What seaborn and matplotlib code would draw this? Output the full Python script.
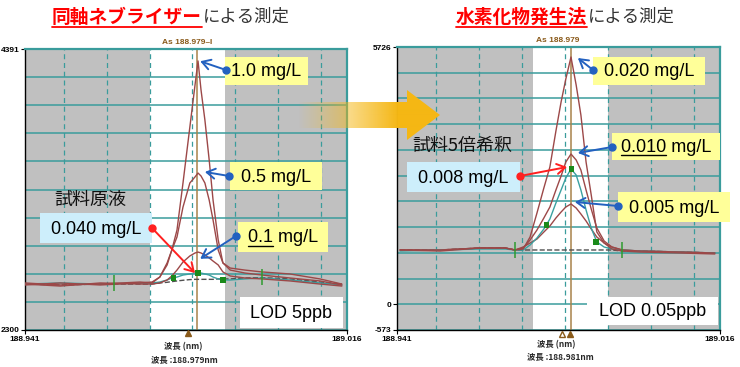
import matplotlib
matplotlib.use("Agg")
import matplotlib.pyplot as plt
from matplotlib.patches import Rectangle, Polygon
from matplotlib.lines import Line2D
import numpy as np
import pandas as pd
import seaborn as sns

# ---------------- data ----------------
# left panel: coaxial nebulizer
wl_left = [188.9410, 188.9492, 188.9585, 188.9678, 188.9706, 188.9724, 188.9741, 188.9752,
           188.9764, 188.9778, 188.9794, 188.9806, 188.9813, 188.9820, 188.9829, 188.9839,
           188.9848, 188.9860, 188.9871, 188.9888, 188.9922, 188.9962, 189.0027, 189.0097,
           189.0148]
std_10 = [2650, 2635, 2642, 2657, 2650, 2694, 2784, 2895, 3044, 3394, 3811, 4123, 4302,
          4086, 3863, 3565, 3267, 2970, 2799, 2761, 2746, 2732, 2717, 2680, 2642]
std_05 = [2635, 2650, 2635, 2650, 2657, 2694, 2799, 2895, 2992, 3215, 3394, 3439, 3468,
          3446, 3394, 3267, 3119, 2895, 2799, 2746, 2724, 2709, 2687, 2665, 2635]
std_01 = [2642, 2627, 2650, 2642, 2642, 2650, 2672, 2702, 2746, 2806, 2851, 2873, 2880,
          2873, 2858, 2836, 2813, 2784, 2732, 2702, 2687, 2680, 2665, 2642, 2627]
sample_left = [2642, 2650, 2642, 2650, 2650, 2657, 2672, 2687, 2694, 2709, 2717, 2724, 2724,
               2724, 2717, 2709, 2694, 2680, 2672, 2672, 2680, 2687, 2672, 2650, 2635]
blank_left = [2642, 2635, 2642, 2642, 2642, 2650, 2655, 2660, 2665, 2670, 2675, 2677, 2677,
              2677, 2677, 2677, 2677, 2680, 2680, 2680, 2687, 2690, 2680, 2657, 2642]
mark_wl_left = [188.9755, 188.9813, 188.9871]
mark_val_left = [2687, 2724, 2672]
tick_wl_left = [188.9617, 188.9962]
tick_val_left = [2650, 2694]

# right panel: hydride generation
wl_right = [188.9417, 188.9510, 188.9603, 188.9661, 188.9684, 188.9703, 188.9719, 188.9735,
            188.9751, 188.9765, 188.9779, 188.9791, 188.9802, 188.9814, 188.9826, 188.9837,
            188.9849, 188.9861, 188.9874, 188.9891, 188.9909, 188.9933, 188.9974, 189.0067,
            189.0148]
std_020 = [1208, 1208, 1252, 1252, 1208, 1230, 1497, 2031, 2588, 3055, 3856, 4502, 5014,
           5503, 4880, 4212, 3166, 2432, 1608, 1363, 1230, 1185, 1163, 1141, 1119]
std_010 = [1208, 1185, 1252, 1252, 1208, 1252, 1430, 1653, 1920, 2165, 2543, 2855, 3166,
           3344, 3211, 2988, 2543, 2120, 1697, 1408, 1274, 1208, 1185, 1163, 1141]
sample_right = [1185, 1208, 1230, 1230, 1208, 1208, 1319, 1475, 1675, 1898, 2254, 2543, 2810,
                3011, 2877, 2543, 2098, 1697, 1386, 1274, 1230, 1208, 1185, 1163, 1141]
std_005 = [1208, 1208, 1252, 1252, 1208, 1274, 1363, 1452, 1608, 1742, 1920, 2053, 2165,
           2232, 2142, 2009, 1853, 1675, 1497, 1363, 1274, 1208, 1185, 1163, 1141]
blank_right = [1208, 1208, 1252, 1252, 1208, 1208, 1208, 1208, 1208, 1208, 1208, 1208, 1208,
               1208, 1208, 1208, 1208, 1208, 1208, 1208, 1208, 1185, 1185, 1163, 1141]
mark_wl_right = [188.9758, 188.9816, 188.9872]
mark_val_right = [1764, 3011, 1386]
tick_wl_right = [188.9684, 188.9932]
tick_val_right = [1208, 1208]

x_range = [188.941, 189.016]
y_range_left = [2300, 4391]
y_range_right = [-573, 5726]
peak_left = 188.9811
peak_right = 188.9814
window_left = [188.9700, 188.9876]
window_right = [188.9726, 188.9900]

# ---------------- style ----------------
sns.set_theme(style="white")
plt.rcParams["font.family"] = ["Liberation Sans", "Noto Sans CJK JP", "DejaVu Sans"]
JP = ["Noto Sans CJK JP", "DejaVu Sans"]

W, H = 740, 367
fig = plt.figure(figsize=(W / 100, H / 100), dpi=100)
fig.patch.set_facecolor("white")


def fx(x):
    return x / W


def fy(y):
    return 1 - y / H


TEAL = "#3a9c9c"
STD = "#9c4848"
SAMPLE = "#3aa0a0"
BLANK = "#505050"
BROWN = "#8a5a1a"


def setup_axes(ax, ylim, grid_step, yticks, ylabels, window, peak):
    ax.set_facecolor("#c0c0c0")
    ax.axvspan(window[0], window[1], color="white", zorder=0.2, lw=0)
    v = ylim[0]
    while v <= ylim[1] + 1:
        ax.axhline(v, color=TEAL, lw=1.1, zorder=0.5)
        v += grid_step
    for v in [188.95, 188.96, 188.97, 188.98, 188.99, 189.00, 189.01]:
        ax.axvline(v, color=TEAL, lw=0.9, ls=(0, (4, 3)), zorder=0.5)
    ax.axvline(peak, color="#a8824a", lw=1.1, zorder=0.6)
    ax.set_xlim(x_range)
    ax.set_ylim(ylim)
    ax.set_xticks(x_range)
    ax.set_xticklabels(["188.941", "189.016"], fontsize=6, fontweight="bold")
    ax.set_yticks(yticks)
    ax.set_yticklabels(ylabels, fontsize=6, fontweight="bold")
    ax.tick_params(bottom=True, left=True, length=3, width=0.8, pad=1, colors="black")
    for s in ["left", "bottom"]:
        ax.spines[s].set_color("black")
        ax.spines[s].set_linewidth(1.0)
    for s in ["top", "right"]:
        ax.spines[s].set_color(TEAL)
        ax.spines[s].set_linewidth(1.6)
    ax.set_xlabel("")
    ax.set_ylabel("")


def draw_curves(ax, wl, curves, mwl, mval, twl, tval):
    for vals, col, ls in curves:
        sns.lineplot(x=wl, y=vals, color=col, lw=1.0, linestyle=ls, ax=ax,
                     estimator=None, sort=False, zorder=3)
    sns.scatterplot(x=mwl, y=mval, marker="s", color="#1a8a1a", s=14, edgecolor="none",
                    ax=ax, zorder=5)
    ax.plot(twl, tval, ls="none", marker="|", ms=12, mew=1.1, color="#2e9b2e", zorder=5)


axL = fig.add_axes([fx(25), fy(330), 322 / W, 281 / H])
axR = fig.add_axes([fx(397), fy(330), 323 / W, 283 / H])

draw_curves(axL, wl_left,
            [(blank_left, BLANK, "--"), (sample_left, SAMPLE, "-"), (std_01, STD, "-"),
             (std_05, STD, "-"), (std_10, STD, "-")],
            mark_wl_left, mark_val_left, tick_wl_left, tick_val_left)
draw_curves(axR, wl_right,
            [(blank_right, BLANK, "--"), (std_005, STD, "-"), (sample_right, SAMPLE, "-"),
             (std_010, STD, "-"), (std_020, STD, "-")],
            mark_wl_right, mark_val_right, tick_wl_right, tick_val_right)

setup_axes(axL, y_range_left, (y_range_left[1] - y_range_left[0]) / 10,
           [2300, 4391], ["2300", "4391"], window_left, peak_left)
setup_axes(axR, y_range_right, 573.0,
           [-573, 0, 5726], ["-573", "0", "5726"], window_right, peak_right)

# small peak markers below the axes
axL.plot([188.9790], [2279], marker="^", ms=5, color=BROWN, clip_on=False, zorder=6)
axR.plot([188.9793], [-660], marker="^", ms=5, mfc="white", mec=BROWN, clip_on=False, zorder=6)
axR.plot([188.9811], [-660], marker="^", ms=5, color=BROWN, clip_on=False, zorder=6)

# ---------------- text ----------------
fig.text(fx(187), fy(42), "As 188.979\u2013I", ha="center", va="center", fontsize=6,
         fontweight="bold", color=BROWN)
fig.text(fx(558), fy(41), "As 188.979", ha="center", va="center", fontsize=6,
         fontweight="bold", color=BROWN)
fig.text(fx(183), fy(347), "波長 (nm)", ha="center", va="center", fontsize=6,
         fontweight="bold", family=JP)
fig.text(fx(184), fy(360), "波長 :188.979nm", ha="center", va="center", fontsize=6,
         fontweight="bold", family=JP)
fig.text(fx(556), fy(345), "波長 (nm)", ha="center", va="center", fontsize=6,
         fontweight="bold", family=JP)
fig.text(fx(560), fy(357), "波長 :188.981nm", ha="center", va="center", fontsize=6,
         fontweight="bold", family=JP)

# titles
t1 = fig.text(fx(202), fy(17), "同軸ネブライザー", ha="right", va="center", fontsize=13.5,
              fontweight="bold", color="#ff0000", family=JP)
fig.text(fx(203), fy(17), "による測定", ha="left", va="center", fontsize=12.5,
         color="#333333", family=JP)
t2 = fig.text(fx(587), fy(17), "水素化物発生法", ha="right", va="center", fontsize=13.5,
              fontweight="bold", color="#ff0000", family=JP)
fig.text(fx(588), fy(17), "による測定", ha="left", va="center", fontsize=12.5,
         color="#333333", family=JP)

fig.text(fx(90), fy(200), "試料原液", ha="center", va="center", fontsize=13, family=JP,
         color="#111111")
fig.text(fx(462), fy(146), "試料5倍希釈", ha="center", va="center", fontsize=13, family=JP,
         color="#111111")

YEL = "#ffff99"
LBL = "#cdeefb"
boxes = [
    # (x0, y0, x1, y1, color, text)
    (225, 57, 308, 85, YEL, "1.0 mg/L"),
    (230, 162, 322, 190, YEL, "0.5 mg/L"),
    (238, 222, 328, 252, YEL, "0.1 mg/L"),
    (40, 213, 152, 243, LBL, "0.040 mg/L"),
    (240, 297, 343, 328, "white", "LOD 5ppb"),
    (593, 57, 705, 85, YEL, "0.020 mg/L"),
    (612, 133, 720, 160, YEL, "0.010 mg/L"),
    (618, 192, 730, 222, YEL, "0.005 mg/L"),
    (407, 162, 520, 192, LBL, "0.008 mg/L"),
    (587, 297, 718, 325, "white", "LOD 0.05ppb"),
]
texts = {}
for x0, y0, x1, y1, c, s in boxes:
    fig.add_artist(Rectangle((fx(x0), fy(y1)), (x1 - x0) / W, (y1 - y0) / H,
                             transform=fig.transFigure, facecolor=c, edgecolor="none",
                             zorder=2))
    texts[s] = fig.text(fx((x0 + x1) / 2), fy((y0 + y1) / 2 + 1), s, ha="center",
                        va="center", fontsize=13, color="black", zorder=3)

# arrows
BLUE = "#2361c0"
RED = "#ff2020"
arrows = [
    (axL, (188.9818, 4300), (226, 70), BLUE),
    (axL, (188.9829, 3476), (229, 176), BLUE),
    (axL, (188.9818, 2830), (236, 236), BLUE),
    (axL, (188.9806, 2724), (152, 228), RED),
    (axR, (188.9830, 5481), (593, 70), BLUE),
    (axR, (188.9830, 3367), (612, 147), BLUE),
    (axR, (188.9823, 2276), (618, 206), BLUE),
    (axR, (188.9805, 3055), (520, 176), RED),
]
for ax, head, tail, col in arrows:
    ax.annotate("", xy=head, xycoords="data", xytext=(tail[0], H - tail[1]),
                textcoords="figure pixels", annotation_clip=False,
                arrowprops=dict(arrowstyle="->,head_length=0.5,head_width=0.3", color=col,
                                lw=1.4, shrinkA=0, shrinkB=0), zorder=6)
    fig.add_artist(Line2D([fx(tail[0])], [fy(tail[1])], transform=fig.transFigure,
                          marker="o", ms=5, color=col, zorder=4))

# big orange gradient arrow
axA = fig.add_axes([fx(290), fy(142), 152 / W, 54 / H], zorder=10)
axA.set_xlim(290, 442)
axA.set_ylim(142, 88)
axA.axis("off")
axA.patch.set_alpha(0)
grad = np.zeros((10, 152, 4))
grad[..., 0] = 245 / 255
grad[..., 1] = 183 / 255
grad[..., 2] = 20 / 255
xs = np.arange(152) + 290
grad[..., 3] = np.clip((xs - 298) / 100.0, 0, 1)[None, :]
im = axA.imshow(grad, extent=[290, 442, 142, 88], aspect="auto", interpolation="bilinear")
arrow_poly = Polygon([(290, 102), (407, 102), (407, 90), (440, 115), (407, 140), (407, 128),
                      (290, 128)], closed=True, transform=axA.transData, facecolor="none",
                     edgecolor="none")
axA.add_patch(arrow_poly)
im.set_clip_path(arrow_poly)

# underlines
fig.canvas.draw()
r = fig.canvas.get_renderer()


def underline(bb_x0, bb_x1, y_px, color, lw):
    fig.add_artist(Line2D([bb_x0 / W, bb_x1 / W], [fy(y_px), fy(y_px)],
                          transform=fig.transFigure, color=color, lw=lw, zorder=4))


for t in (t1, t2):
    bb = t.get_window_extent(r)
    underline(bb.x0, bb.x1, 27, "#ff0000", 1.3)

for full, part, ypx in [("0.1 mg/L", "0.1", 246), ("0.010 mg/L", "0.010", 155)]:
    bb = texts[full].get_window_extent(r)
    tmp = fig.text(0, 0, part, fontsize=13)
    w = tmp.get_window_extent(r).width
    tmp.remove()
    underline(bb.x0, bb.x0 + w, ypx, "black", 1.0)

fig.savefig("out.png", dpi=100, facecolor="white")
